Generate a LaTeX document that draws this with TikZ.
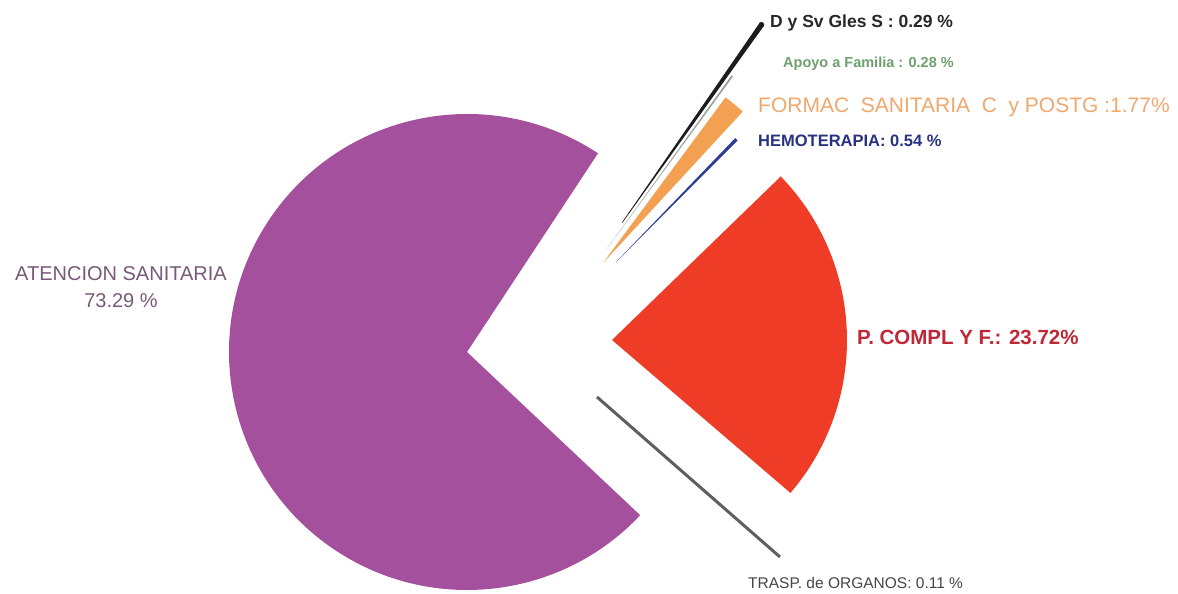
\documentclass[tikz,border=0pt]{standalone}
\usepackage{fontspec}
\setmainfont{Liberation Sans}
\usetikzlibrary{calc}
\definecolor{cPurple}{RGB}{164,80,156}
\definecolor{cRed}{RGB}{238,60,38}
\definecolor{cOrange}{RGB}{244,160,82}
\definecolor{cBlue}{RGB}{44,62,148}
\definecolor{cBlack}{RGB}{28,28,30}
\definecolor{cApoyo}{RGB}{150,165,150}
\definecolor{cTrasp}{RGB}{92,96,100}
\definecolor{tBlack}{RGB}{40,40,44}
\definecolor{tGreen}{RGB}{110,160,110}
\definecolor{tOrange}{RGB}{240,168,108}
\definecolor{tBlue}{RGB}{40,50,130}
\definecolor{tRed}{RGB}{190,40,55}
\definecolor{tPurple}{RGB}{120,90,120}
\definecolor{tGray}{RGB}{70,70,74}
\tikzset{
  lbl/.style={inner sep=0pt, anchor=west},
}
\begin{document}
\begin{tikzpicture}[x=1pt,y=-1pt]
\useasboundingbox[fill=white] (0,0) rectangle (1178,594);
% centres of the slices
\coordinate (P) at (467,352);
\coordinate (Rc) at (612,340);
\coordinate (O) at (603,263);
\coordinate (B) at (616,262);
\coordinate (G) at (606,250);
\coordinate (K) at (605,247);
\coordinate (T1) at (597,397);
\coordinate (T2) at (780,557);
% ATENCION SANITARIA
\fill[cPurple] (P) -- ++(-56.6:238) arc[start angle=-56.6, end angle=-316.7, radius=238] -- cycle;
% P. COMPL Y F.
\fill[cRed] (Rc) -- ++(40.6:235) arc[start angle=40.6, end angle=-44.1, radius=235] -- cycle;
% HEMOTERAPIA
\fill[cBlue] (B) -- ++(-45.0:172) arc[start angle=-45.0, end angle=-46.1, radius=172] -- cycle;
% FORMAC
\fill[cOrange] (O) -- ++(-47.3:206) arc[start angle=-47.3, end angle=-53.5, radius=206] -- cycle;
% Apoyo a Familia
\fill[cApoyo] (G) -- ++(-53.8:215) arc[start angle=-53.8, end angle=-54.3, radius=215] -- cycle;
% D y Sv Gles S
\fill[cBlack] ($(K)+(-54.3:30)$) -- ($(K)+(-54.3:273)$) arc[start angle=-54.3, end angle=-55.4, radius=273] -- ($(K)+(-55.4:30)$) -- cycle;
\fill[cBlack] ($(K)+(-54.85:272)$) circle[radius=2.6];
% TRASP
\draw[cTrasp, line width=3pt] (T1) -- (T2);
% labels
\node[lbl, font=\fontsize{17.5}{20}\selectfont\bfseries, text=tBlack] (lD) at (770,23) {D y Sv Gles S : 0.29 \%};
\node[lbl, font=\fontsize{14.5}{17}\selectfont\bfseries, text=tGreen] (lA) at (783,64) {Apoyo a Familia : 0.28 \%};
\node[lbl, font=\fontsize{21}{23}\selectfont, text=tOrange] (lF) at (758,107) {FORMAC\ \ SANITARIA\ \ C\ \ y POSTG :1.77\%};
\node[lbl, font=\fontsize{16.5}{19}\selectfont\bfseries, text=tBlue] (lH) at (758,141) {HEMOTERAPIA: 0.54 \%};
\node[lbl, font=\fontsize{20.5}{23}\selectfont\bfseries, text=tRed] (lP) at (857,337) {P. COMPL Y F.: 23.72\%};
\node[inner sep=0pt, align=center, font=\fontsize{20}{27}\selectfont, text=tPurple] (lS) at (121,287) {ATENCION SANITARIA\\73.29 \%};
\node[lbl, font=\fontsize{15.5}{18}\selectfont, text=tGray] (lT) at (748,583) {TRASP. de ORGANOS: 0.11 \%};
\end{tikzpicture}
\end{document}
